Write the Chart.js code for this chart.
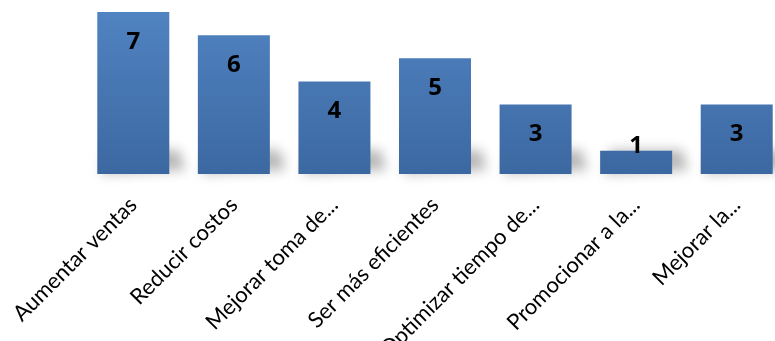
<!DOCTYPE html>
<html>
<head>
<meta charset="utf-8">
<script src="https://cdn.jsdelivr.net/npm/chart.js@4.4.1/dist/chart.umd.min.js"></script>
<style>
  html, body { margin: 0; padding: 0; background: #fff; overflow: hidden; }
  #wrap { width: 787px; height: 341px; }
</style>
</head>
<body>
<div id="wrap"><canvas id="myChart"></canvas></div>
<script>
const categories = ["Aumentar ventas", "Reducir costos", "Mejorar toma de...", "Ser más eficientes",
  "Optimizar tiempo de...", "Promocionar a la...", "Mejorar la..."];
const values = [7, 6, 4, 5, 3, 1, 3];

// soft grey shadow at the foot of every bar
const footShadow = {
  id: "footShadow",
  beforeDatasetsDraw(chart) {
    const ctx = chart.ctx;
    chart.getDatasetMeta(0).data.forEach(function (bar) {
      const w = bar.width;
      ctx.save();
      ctx.filter = "blur(6px)";
      ctx.fillStyle = "rgba(0,0,0,0.28)";
      ctx.beginPath();
      ctx.moveTo(bar.x - w / 2 + 4, bar.base);
      ctx.lineTo(bar.x + w / 2 + 16, bar.base - 4);
      ctx.lineTo(bar.x + w / 2 + 10, bar.base - 24);
      ctx.lineTo(bar.x - w / 2 + 10, bar.base - 24);
      ctx.closePath();
      ctx.fill();
      ctx.restore();
    });
  }
};

// value labels inside the top of the bars
const valueLabels = {
  id: "valueLabels",
  afterDatasetsDraw(chart) {
    const ctx = chart.ctx;
    ctx.save();
    ctx.font = "bold 24px 'Open Sans', sans-serif";
    ctx.fillStyle = "#000";
    ctx.textAlign = "center";
    ctx.textBaseline = "middle";
    chart.getDatasetMeta(0).data.forEach(function (bar, i) {
      let y = bar.y + 30;
      if (bar.base - bar.y < 40) y = bar.y - 5;
      ctx.fillText(values[i], bar.x, y);
    });
    ctx.restore();
  }
};

const ctxBar = document.getElementById("myChart");
new Chart(ctxBar, {
  type: "bar",
  data: {
    labels: categories,
    datasets: [{
      data: values,
      barPercentage: 0.716,
      categoryPercentage: 1,
      backgroundColor: function (c) {
        const area = c.chart.chartArea;
        if (!area) return "#4a7ab5";
        const g = c.chart.ctx.createLinearGradient(0, area.top, 0, area.bottom);
        g.addColorStop(0, "#5083c1");
        g.addColorStop(1, "#3c68a1");
        return g;
      }
    }]
  },
  options: {
    responsive: true,
    maintainAspectRatio: false,
    animation: false,
    layout: { padding: { left: 83, top: 12, right: 0, bottom: 0 } },
    plugins: { legend: { display: false }, tooltip: { enabled: false } },
    scales: {
      y: { display: false, min: 0, max: 7 },
      x: {
        grid: { display: false },
        border: { display: false },
        ticks: {
          color: "#000",
          font: { family: "Lato, 'Open Sans', sans-serif", size: 22 },
          maxRotation: 45,
          minRotation: 45,
          padding: 10,
          autoSkip: false
        },
        afterFit: function (scale) { scale.height = 167; }
      }
    }
  },
  plugins: [footShadow, valueLabels]
});
</script>
</body>
</html>
